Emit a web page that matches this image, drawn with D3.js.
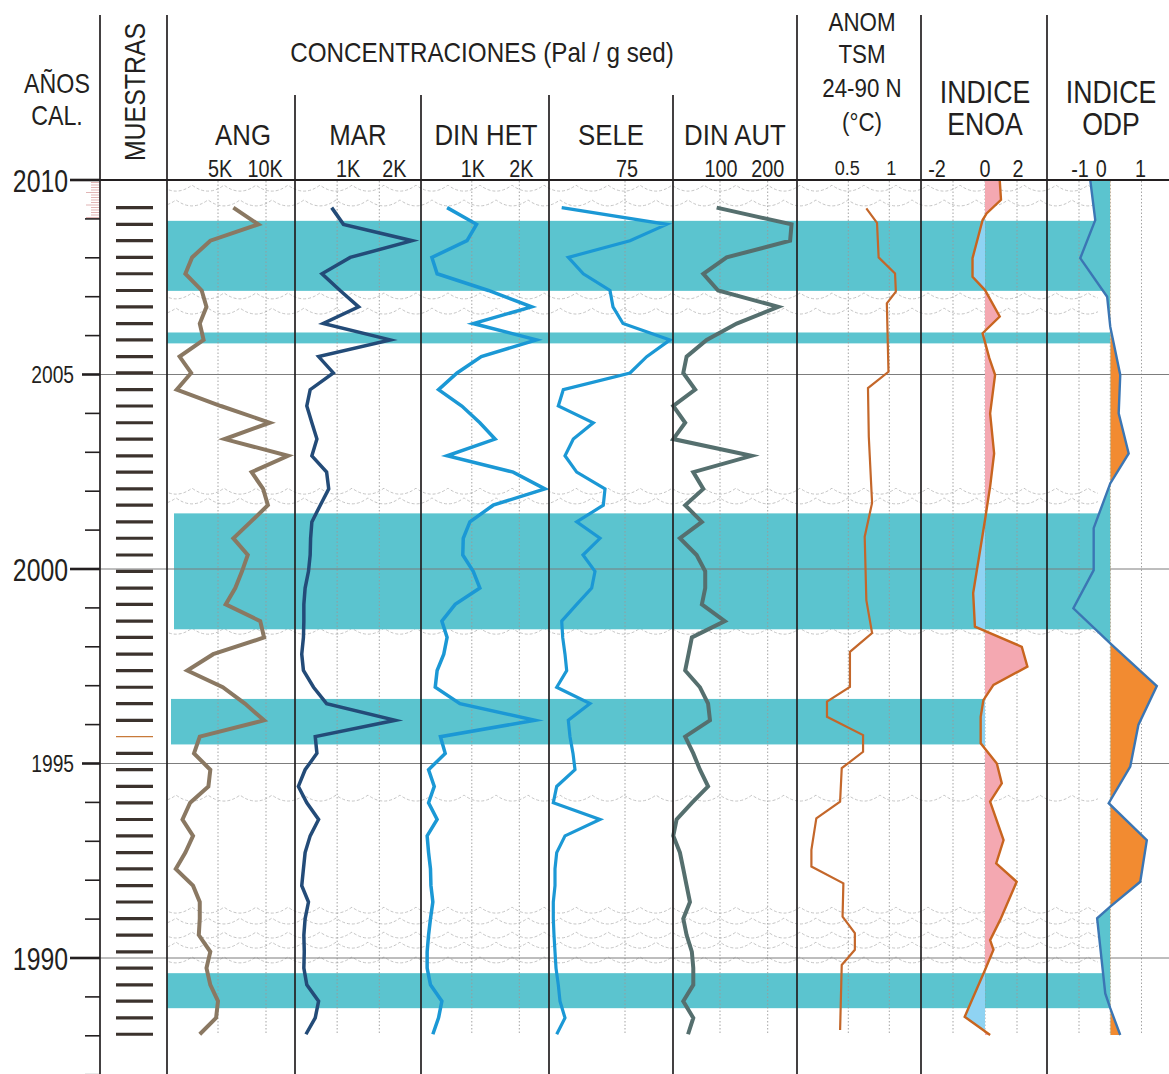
<!DOCTYPE html>
<html>
<head>
<meta charset="utf-8">
<title>Concentraciones de palinomorfos</title>
<script src="https://cdn.jsdelivr.net/npm/d3@7"></script>
<style>
  body { margin: 0; background: #fff; }
  text { font-family: "Liberation Sans", Arial, sans-serif; fill: #231f20; }
</style>
</head>
<body>
<div id="chart"></div>
<script>
// ---- data ----
var sampleYears = [2009.29, 2008.86, 2008.44, 2008.01, 2007.59, 2007.16, 2006.74, 2006.31, 2005.89, 2005.46,
  2005.04, 2004.61, 2004.19, 2003.76, 2003.34, 2002.91, 2002.49, 2002.06, 2001.64, 2001.21,
  2000.79, 2000.36, 1999.94, 1999.51, 1999.09, 1998.66, 1998.24, 1997.81, 1997.39, 1996.96,
  1996.54, 1996.11, 1995.69, 1995.26, 1994.84, 1994.41, 1993.99, 1993.56, 1993.14, 1992.71,
  1992.29, 1991.86, 1991.44, 1991.01, 1990.59, 1990.16, 1989.74, 1989.31, 1988.89, 1988.46, 1988.04];
var thinSample = 1995.69;

// concentraciones (Pal / g sed), one value per sample
var ang = [6.6, 9.2, 4.2, 2.3, 1.6, 3.3, 3.8, 3.1, 3.5, 1.0, 2.2, 0.7, 5.3, 10.4, 5.7, 12.3, 8.5, 9.7, 10.2, 8.4,
  6.6, 8.1, 7.5, 6.8, 5.8, 9.4, 9.8, 4.5, 1.8, 5.5, 7.8, 9.8, 3.1, 2.5, 4.2, 4.0, 2.1, 1.3, 2.4, 1.6,
  0.6, 2.4, 3.1, 3.1, 3.0, 4.2, 3.8, 4.2, 5.0, 4.8, 3.1];            // K
var mar = [0.87, 1.15, 2.78, 1.31, 0.64, 1.07, 1.51, 0.67, 2.26, 0.56, 0.91, 0.36, 0.28, 0.40, 0.52, 0.40, 0.75, 0.80, 0.60, 0.40,
  0.37, 0.36, 0.32, 0.24, 0.21, 0.21, 0.20, 0.16, 0.20, 0.44, 0.75, 2.38, 0.48, 0.52, 0.24, 0.08, 0.28, 0.56, 0.36, 0.24,
  0.20, 0.16, 0.32, 0.24, 0.21, 0.22, 0.21, 0.28, 0.56, 0.48, 0.26];  // K
var dinHet = [0.48, 1.10, 0.90, 0.16, 0.27, 1.35, 2.26, 1.03, 2.36, 1.20, 0.69, 0.30, 0.79, 1.17, 1.49, 0.48, 1.87, 2.54, 1.45, 0.96,
  0.82, 0.81, 1.03, 1.17, 0.65, 0.37, 0.48, 0.41, 0.27, 0.23, 0.75, 2.33, 0.34, 0.44, 0.09, 0.21, 0.09, 0.27, 0.06, 0.09,
  0.13, 0.14, 0.18, 0.13, 0.09, 0.06, 0.06, 0.13, 0.37, 0.30, 0.18]; // K
var sele = [11.7, 116.7, 80, 18.3, 33.3, 60, 63, 73, 120, 96.7, 80, 13.3, 8.3, 43.3, 23.3, 15, 26.7, 55, 53.3, 26.7,
  50, 33, 45, 41.7, 26.7, 11.7, 12.7, 15, 16.7, 6.7, 40, 18.3, 20, 23, 25, 6.7, 3.3, 50, 15, 6.7,
  5, 5, 3.3, 3.3, 4, 5, 6, 8.3, 10, 15, 6.7];
var dinAut = [93, 250, 247, 114, 65, 96, 222, 135, 72, 30, 23, 48, 2, 27, 2, 166, 44, 65, 27, 62,
  16, 51, 69, 69, 62, 110, 41, 34, 27, 58, 75, 79, 27, 44, 58, 75, 41, 9, 2, 16,
  23, 30, 37, 23, 30, 41, 44, 44, 23, 44, 33];

// anomalia TSM 24-90 N (C)
var anomYears = [2009.27, 2008.90, 2008.01, 2007.60, 2007.13, 2006.83, 2005.07, 2004.65, 2003.40, 2001.70, 2000.83,
  1999.20, 1998.35, 1997.87, 1996.97, 1996.59, 1996.20, 1995.73, 1995.30, 1994.88, 1994.02,
  1993.59, 1992.78, 1992.35, 1991.92, 1991.06, 1990.64, 1990.21, 1989.82, 1988.15];
var anomValues = [0.72, 0.85, 0.87, 1.07, 1.08, 0.97, 0.99, 0.74, 0.75, 0.79, 0.70,
  0.72, 0.79, 0.52, 0.52, 0.24, 0.24, 0.68, 0.68, 0.42, 0.40,
  0.11, 0.05, 0.05, 0.44, 0.43, 0.58, 0.58, 0.42, 0.40];

// indice ENOA
var enoaYears = [2010.0, 2009.49, 2009.14, 2008.97, 2007.99, 2007.51, 2007.17, 2006.49, 2006.06, 2005.42,
  2004.99, 2004.00, 2002.97, 2002.12, 2001.26, 1999.38, 1998.52, 1998.00, 1997.49, 1997.02,
  1996.63, 1996.20, 1995.52, 1995.00, 1994.49, 1994.02, 1993.03, 1992.43, 1991.96, 1990.98,
  1990.46, 1990.21, 1989.69, 1988.49, 1988.02];
var enoaValues = [0.92, 1.0, 0.1, -0.15, -0.78, -0.78, 0.0, 0.92, -0.15, 0.27,
  0.63, 0.32, 0.57, 0.32, 0.0, -0.74, -0.63, 2.3, 2.65, 0.53,
  -0.1, -0.27, -0.27, 0.74, 1.05, 0.32, 1.16, 0.70, 1.98, 0.95,
  0.32, 0.53, 0.0, -1.27, 0.32];

// indice ODP
var odpYears = [2010.0, 2008.97, 2007.99, 2007.0, 2006.23, 2004.99, 2004.0, 2002.97, 2002.2, 2001.05,
  1999.97, 1998.99, 1998.09, 1996.99, 1995.99, 1994.92, 1993.98, 1993.03, 1991.96, 1991.32,
  1991.02, 1989.09, 1988.71, 1988.02];
var odpValues = [-0.64, -0.48, -0.96, -0.1, 0.0, 0.32, 0.27, 0.59, 0.0, -0.53,
  -0.53, -1.18, 0.0, 1.49, 0.9, 0.64, -0.05, 1.17, 0.96, 0.0,
  -0.42, -0.16, 0.0, 0.32];

// shaded intervals
var bandTop    = [2008.95, 2006.08, 2001.43, 1996.66, 1989.61];
var bandBottom = [2007.15, 2005.80, 1998.45, 1995.49, 1988.71];
var bandReach  = ["ODP", "ODP", "ODP", "ENOA", "ODP"];
// rows of the wave symbol
var waveYears = [2009.74, 2009.36, 2006.97, 2006.58, 2001.95, 2001.70, 1998.35, 1994.06,
  1991.18, 1990.90, 1990.54, 1990.28, 1989.90];

// tick labels
var angTicks = [5, 10],      angLabels = ["5K", "10K"];
var marTicks = [1, 2],       marLabels = ["1K", "2K"];
var hetTicks = [1, 2],       hetLabels = ["1K", "2K"];
var seleTicks = [75],        seleLabels = ["75"];
var autTicks = [100, 200],   autLabels = ["100", "200"];
var anomTicks = [0.5, 1],    anomLabels = ["0.5", "1"];
var enoaTicks = [-2, 0, 2],  enoaLabels = ["-2", "0", "2"];
var odpTicks = [-1, 0, 1],   odpLabels = ["-1", "0", "1"];
var yearLabels = [2010, 2005, 2000, 1995, 1990];

// ---- layout ----
var W = 1169, H = 1074;
var teal = "#5bc4cf";
var y = d3.scaleLinear().domain([2010, 1990]).range([180, 958]);
var yEnd = y(1988.02);

var svg = d3.select("#chart").append("svg").attr("width", W).attr("height", H);
svg.append("rect").attr("width", W).attr("height", H).attr("fill", "#fff");

var panels = [
  {name: "ANG", x: d3.scaleLinear().domain([0, 10]).range([170, 266]), ticks: angTicks, labels: angLabels, shift: [2, -1], vals: ang, color: "#8a7862", w: 4},
  {name: "MAR", x: d3.scaleLinear().domain([0, 2]).range([295, 379.3]), ticks: marTicks, labels: marLabels, shift: [11, 15], vals: mar, color: "#234b78", w: 3.5},
  {name: "DINHET", x: d3.scaleLinear().domain([0, 2]).range([424.3, 519.3]), ticks: hetTicks, labels: hetLabels, shift: [1, 2], vals: dinHet, color: "#1b98d5", w: 3.5},
  {name: "SELE", x: d3.scaleLinear().domain([0, 75]).range([550, 625]), ticks: seleTicks, labels: seleLabels, shift: [2], vals: sele, color: "#1b98d5", w: 3.2},
  {name: "DINAUT", x: d3.scaleLinear().domain([0, 200]).range([672.3, 767.7]), ticks: autTicks, labels: autLabels, shift: [1, 0], vals: dinAut, color: "#556f6e", w: 4}
];
var anomX = d3.scaleLinear().domain([0.5, 1]).range([848.3, 889.3]);
var enoaX = d3.scaleLinear().domain([-2, 2]).range([953, 1017]);
var odpX = d3.scaleLinear().domain([-1, 1]).range([1079, 1141.5]);

function label(g, x, yy, str, size, anchor, sx) {
  return g.append("text")
    .attr("transform", "translate(" + x + "," + yy + ") scale(" + (sx || 0.86) + ",1)")
    .attr("text-anchor", anchor || "middle")
    .attr("font-size", size)
    .text(str);
}

// wave symbols
svg.append("clipPath").attr("id", "waveClip").append("rect")
  .attr("x", 168).attr("y", 181).attr("width", 930).attr("height", 860);
var waveG = svg.append("g").attr("clip-path", "url(#waveClip)")
  .attr("fill", "none").attr("stroke", "#bdbdbd").attr("stroke-width", 0.9).attr("stroke-dasharray", "3,2");
waveYears.forEach(function(yr, k) {
  var yy = y(yr) - 5, P = 32, off = (k % 2) * 16;
  var p = d3.path(), x = 160 - off;
  p.moveTo(x, yy);
  while (x < 1110) { p.quadraticCurveTo(x + P / 2, yy + 12, x + P, yy); x += P; }
  waveG.append("path").attr("d", p.toString());
});

// shaded bands
var bandLeft = [167, 167, 174, 171, 167];
svg.append("g").selectAll("rect").data(bandTop).enter().append("rect")
  .attr("x", function(d, i) { return bandLeft[i]; })
  .attr("y", function(d) { return y(d); })
  .attr("width", function(d, i) { return (bandReach[i] === "ODP" ? odpX(0) : enoaX(0)) - bandLeft[i]; })
  .attr("height", function(d, i) { return y(bandBottom[i]) - y(d); })
  .attr("fill", teal);

// dotted gridlines
var grid = svg.append("g").attr("stroke", "#9a9a9a").attr("stroke-width", 0.9).attr("stroke-dasharray", "1.5,2");
function gridLines(scale, ticks) {
  ticks.forEach(function(t) {
    grid.append("line").attr("x1", scale(t)).attr("x2", scale(t)).attr("y1", 181).attr("y2", yEnd);
  });
}
panels.forEach(function(p) { gridLines(p.x, p.ticks); });
gridLines(anomX, anomTicks);
gridLines(enoaX, enoaTicks);
gridLines(odpX, odpTicks);

// year lines
svg.append("g").selectAll("line").data([2005, 2000, 1995, 1990]).enter().append("line")
  .attr("x1", 100).attr("x2", W).attr("y1", function(d) { return y(d); }).attr("y2", function(d) { return y(d); })
  .attr("stroke", "#7d7d7d").attr("stroke-width", 1);

// concentration curves
panels.forEach(function(p) {
  var line = d3.line().x(function(d) { return p.x(d); }).y(function(d, i) { return y(sampleYears[i]); });
  svg.append("path").attr("d", line(p.vals)).attr("fill", "none")
    .attr("stroke", p.color).attr("stroke-width", p.w).attr("stroke-linejoin", "miter").attr("stroke-miterlimit", 6);
});

// ANOM TSM
var anomLine = d3.line().x(function(d) { return anomX(d); }).y(function(d, i) { return y(anomYears[i]); });
svg.append("path").attr("d", anomLine(anomValues)).attr("fill", "none")
  .attr("stroke", "#c4672a").attr("stroke-width", 2.2);

// filled index curves
function indexCurve(id, years, values, xs, left, right, posFill, negFill, lineColor) {
  var zero = xs(0);
  svg.append("clipPath").attr("id", id + "Pos").append("rect").attr("x", zero).attr("y", 170).attr("width", right - zero).attr("height", 900);
  svg.append("clipPath").attr("id", id + "Neg").append("rect").attr("x", left).attr("y", 170).attr("width", zero - left).attr("height", 900);
  var area = d3.area().x0(zero).x1(function(d) { return xs(d); }).y(function(d, i) { return y(years[i]); });
  svg.append("path").attr("d", area(values)).attr("fill", posFill).attr("clip-path", "url(#" + id + "Pos)");
  svg.append("path").attr("d", area(values)).attr("fill", negFill).attr("clip-path", "url(#" + id + "Neg)");
  var line = d3.line().x(function(d) { return xs(d); }).y(function(d, i) { return y(years[i]); });
  svg.append("path").attr("d", line(values)).attr("fill", "none").attr("stroke", lineColor).attr("stroke-width", 2.4);
}
indexCurve("enoa", enoaYears, enoaValues, enoaX, 921, 1047, "#f4a8b1", "#8fd3f3", "#c8651f");
indexCurve("odp", odpYears, odpValues, odpX, 1047, W, "#f28b31", teal, "#3b76b4");

// muestras
svg.append("g").selectAll("line").data(sampleYears).enter().append("line")
  .attr("x1", 116).attr("x2", 153)
  .attr("y1", function(d) { return y(d); }).attr("y2", function(d) { return y(d); })
  .attr("stroke", function(d) { return d === thinSample ? "#c87a3a" : "#3b322d"; })
  .attr("stroke-width", function(d) { return d === thinSample ? 1.3 : 3.2; });

// column separators
var sep = svg.append("g").attr("stroke", "#231f20").attr("stroke-width", 1.7);
[100, 167, 797, 921, 1047].forEach(function(x) {
  sep.append("line").attr("x1", x).attr("x2", x).attr("y1", 15).attr("y2", H);
});
[295, 421, 549, 673].forEach(function(x) {
  sep.append("line").attr("x1", x).attr("x2", x).attr("y1", 95).attr("y2", H);
});
sep.append("line").attr("x1", 70).attr("x2", W).attr("y1", y(2010)).attr("y2", y(2010)).attr("stroke-width", 2);

// year axis ticks
var axisG = svg.append("g");
var tickYears = d3.range(1987, 2011);
axisG.selectAll("line").data(tickYears).enter().append("line")
  .attr("x1", function(d) { return d % 10 === 0 ? 70 : (d % 5 === 0 ? 82 : 85); })
  .attr("x2", 100)
  .attr("y1", function(d) { return y(d); }).attr("y2", function(d) { return y(d); })
  .attr("stroke", "#231f20").attr("stroke-width", function(d) { return d % 5 === 0 ? 2.6 : 1.6; });
// fine ruler below 2010
var ruler = svg.append("g").attr("stroke", "#d9a2a2").attr("stroke-width", 0.8);
d3.range(1, 16).forEach(function(k) {
  var yy = y(2010) + k * 2.5;
  ruler.append("line").attr("x1", k % 5 === 0 ? 86 : 91).attr("x2", 99).attr("y1", yy).attr("y2", yy);
});
yearLabels.forEach(function(yr) {
  if (yr % 10 === 0) label(axisG, 68, y(yr) + 12, String(yr), 31, "end", 0.8);
  else label(axisG, 74, y(yr) + 8, String(yr), 24, "end", 0.8);
});

// headers
var hd = svg.append("g");
label(hd, 57, 93, "AÑOS", 27);
label(hd, 57, 125, "CAL.", 27);
hd.append("text").attr("transform", "translate(145,92) rotate(-90) scale(0.83,1)")
  .attr("text-anchor", "middle").attr("font-size", 30).text("MUESTRAS");
label(hd, 482, 62, "CONCENTRACIONES (Pal / g sed)", 28.5, "middle", 0.85);
var colTitles = [["ANG", 243], ["MAR", 358], ["DIN HET", 486], ["SELE", 611], ["DIN AUT", 735]];
colTitles.forEach(function(c) { label(hd, c[1], 145, c[0], 30); });
label(hd, 862, 31, "ANOM", 26);
label(hd, 862, 63, "TSM", 26);
label(hd, 862, 97, "24-90 N", 26);
label(hd, 862, 131, "(°C)", 26);
label(hd, 985, 103, "INDICE", 31);
label(hd, 985, 135, "ENOA", 31);
label(hd, 1111, 103, "INDICE", 31);
label(hd, 1111, 135, "ODP", 31);

// tick labels
var tl = svg.append("g");
panels.forEach(function(p) {
  p.ticks.forEach(function(t, i) { label(tl, p.x(t) + p.shift[i], 177, p.labels[i], 23); });
});
var anomShift = [-1, 2], enoaShift = [-16, 0, 1], odpShift = [1, -9, -1];
anomTicks.forEach(function(t, i) { label(tl, anomX(t) + anomShift[i], 175, anomLabels[i], 21); });
enoaTicks.forEach(function(t, i) { label(tl, enoaX(t) + enoaShift[i], 177, enoaLabels[i], 23); });
odpTicks.forEach(function(t, i) { label(tl, odpX(t) + odpShift[i], 177, odpLabels[i], 23); });
</script>
</body>
</html>
